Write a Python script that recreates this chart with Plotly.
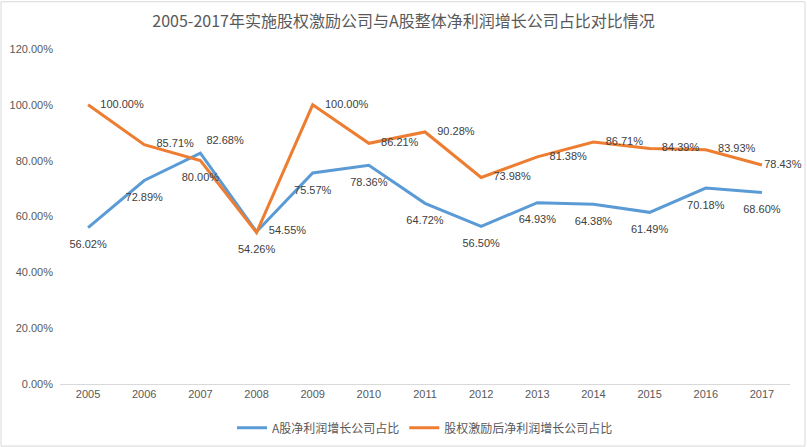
import plotly.graph_objects as go

years = ["2005", "2006", "2007", "2008", "2009", "2010", "2011", "2012", "2013", "2014", "2015", "2016", "2017"]
a_share = [0.5602, 0.7289, 0.8268, 0.5455, 0.7557, 0.7836, 0.6472, 0.5650, 0.6493, 0.6438, 0.6149, 0.7018, 0.6860]
incentive = [1.0000, 0.8571, 0.8000, 0.5426, 1.0000, 0.8621, 0.9028, 0.7398, 0.8138, 0.8671, 0.8439, 0.8393, 0.7843]
y_ticks = [0, 0.2, 0.4, 0.6, 0.8, 1.0, 1.2]

name_a = "A股净利润增长公司占比"
name_b = "股权激励后净利润增长公司占比"
title = "2005-2017年实施股权激励公司与A股整体净利润增长公司占比对比情况"

pos_a = ["bottom center", "bottom center", "top right", "middle right"] + ["bottom center"] * 9
pos_b = ["middle right", "middle right", "bottom center", "bottom center"] + ["middle right"] * 9
# invisible marker sizes only control the label offset from each point
msize_a = [18, 18, 8] + [18] * 10
msize_b = [18] * 12 + [2]

font_fam = "Liberation Sans, Noto Sans CJK SC, sans-serif"
cjk_fam = "Noto Sans CJK SC, sans-serif"

W, H = 807, 454
T, B = 49, 65
PH = H - T - B

fig = go.Figure()
fig.add_trace(go.Scatter(
    x=years, y=a_share, name=name_a, mode="lines+markers+text",
    line=dict(color="#5B9BD5", width=3),
    marker=dict(size=msize_a, color="rgba(0,0,0,0)", line=dict(width=0)),
    texttemplate="%{y:.2%}", textposition=pos_a,
    textfont=dict(size=11, color="#404040", family=font_fam),
    cliponaxis=False, hoverinfo="skip",
))
fig.add_trace(go.Scatter(
    x=years, y=incentive, name=name_b, mode="lines+markers+text",
    line=dict(color="#ED7D31", width=3),
    marker=dict(size=msize_b, color="rgba(0,0,0,0)", line=dict(width=0)),
    texttemplate="%{y:.2%}", textposition=pos_b,
    textfont=dict(size=11, color="#404040", family=font_fam),
    cliponaxis=False, hoverinfo="skip",
))

fig.update_layout(
    width=W, height=H, autosize=False,
    margin=dict(l=60, r=17, t=T, b=B),
    paper_bgcolor="white", plot_bgcolor="white",
    font=dict(family=font_fam, color="#595959", size=12),
    title=dict(text=title, x=0.5, xanchor="center", y=1 - 21.5 / H, yanchor="middle",
               font=dict(size=16, color="#595959", family=cjk_fam)),
    xaxis=dict(type="category", range=[-0.5, 12.5], showgrid=False, showline=True,
               linecolor="#D9D9D9", linewidth=1, ticks="", tickfont=dict(size=11, color="#595959"),
               zeroline=False, automargin=False),
    yaxis=dict(range=[0, 1.2], tickvals=y_ticks, tickformat=".2%", showgrid=False,
               showline=False, zeroline=False, ticks="", tickfont=dict(size=11, color="#595959"),
               ticklabelstandoff=6, automargin=False),
    legend=dict(orientation="h", x=0.5, xanchor="center", y=-44.5 / PH, yanchor="middle",
                font=dict(size=12, color="#595959", family=cjk_fam), itemwidth=30),
    showlegend=True,
    shapes=[dict(type="rect", xref="paper", yref="paper",
                 x0=(1 - 60) / 730, x1=(805 - 60) / 730,
                 y0=(T + PH - 452) / PH, y1=(T + PH - 1) / PH,
                 line=dict(color="#D9D9D9", width=1), fillcolor="rgba(0,0,0,0)", layer="below")],
)

fig.write_html("out.html", config={"responsive": False, "displayModeBar": False},
               post_script="document.body.style.margin='0';document.body.style.overflow='hidden';")
